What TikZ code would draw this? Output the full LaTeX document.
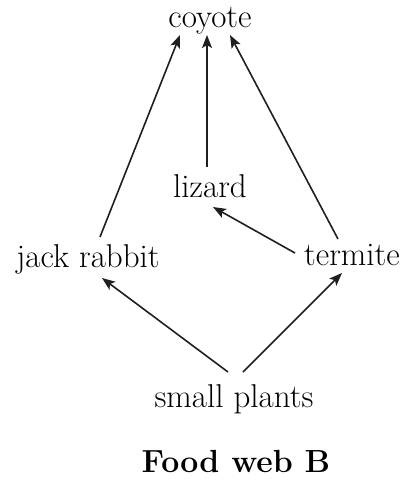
\documentclass[tikz,border=0pt]{standalone}
\usetikzlibrary{arrows.meta}
\begin{document}
\begin{tikzpicture}[x=1pt,y=-1pt,
  lbl/.style={anchor=base,inner sep=0pt,font=\fontsize{33}{38}\selectfont},
  ttl/.style={anchor=base,inner sep=0pt,font=\fontsize{32}{36}\selectfont\bfseries},
  arr/.style={line width=1.6pt,draw={black!88},-{Stealth[length=13pt,width=10pt,inset=3pt]}}]
\useasboundingbox (0,0) rectangle (409,480);
\node[lbl] (coyote) at (210,27) {coyote};
\node[lbl] (lizard) at (210,197) {lizard};
\node[lbl] (jack) at (88,267) {jack rabbit};
\node[lbl] (termite) at (352,265) {termite};
\node[lbl] (plants) at (234,407) {small plants};
\node[ttl] (title) at (236,472) {Food web B};
\draw[arr] ([shift={(12,-30)}]jack.base) -- ([shift={(-30,8)}]coyote.base);
\draw[arr] ([shift={(-3,-30)}]lizard.base) -- ([shift={(-3,8)}]coyote.base);
\draw[arr] ([shift={(-14,-26)}]termite.base) -- ([shift={(20,8)}]coyote.base);
\draw[arr] ([shift={(-57,-12)}]termite.base) -- ([shift={(3,10)}]lizard.base);
\draw[arr] ([shift={(-6,-35)}]plants.base) -- ([shift={(14,11)}]jack.base);
\draw[arr] ([shift={(9,-35)}]plants.base) -- ([shift={(-10,8)}]termite.base);
\end{tikzpicture}
\end{document}
